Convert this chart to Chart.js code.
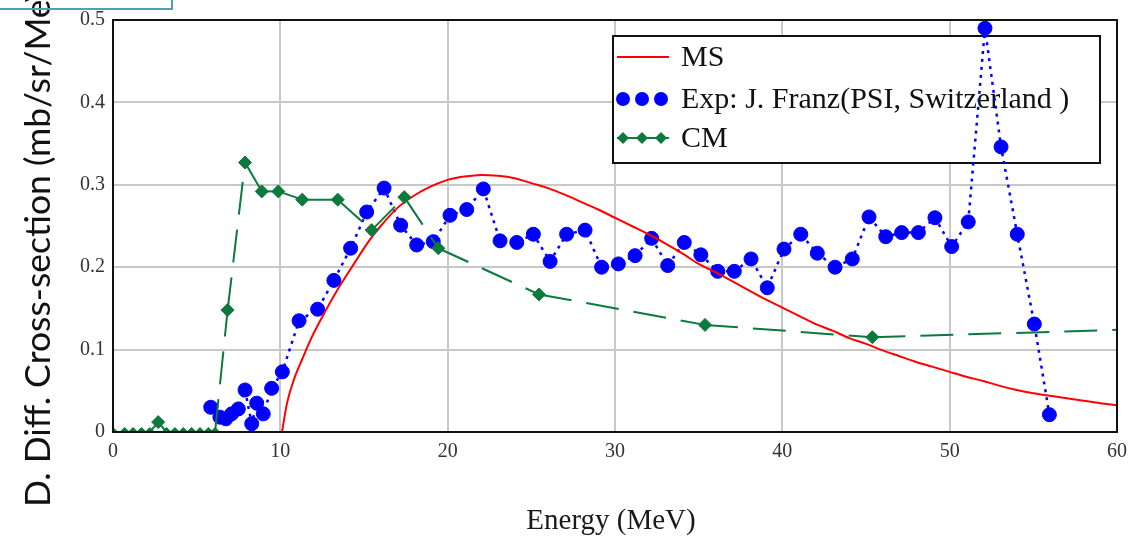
<!DOCTYPE html>
<html>
<head>
<meta charset="utf-8">
<script src="https://cdn.jsdelivr.net/npm/chart.js@4.4.1/dist/chart.umd.min.js"></script>
<style>
  body { margin: 0; background: #fff; }
  #wrap { position: relative; width: 1144px; height: 541px; overflow: hidden; }
  #tab { position: absolute; left: -4px; top: -4px; width: 173px; height: 10px; border: 2px solid #4ba1b6; }
</style>
</head>
<body>
<div id="wrap">
  <canvas id="chart" width="1144" height="541"></canvas>
  <div id="tab"></div>
</div>
<script>
// MS model curve
const msEnergy = [10.1, 10.4, 10.8, 11.3, 11.9, 12.7, 13.4, 14.4, 15.3, 16, 17, 18, 19, 20,
    21, 22, 23, 24, 25, 26, 27, 28, 29, 30, 31, 32, 33, 34, 35, 36, 37, 38, 39, 40,
    41, 42, 43, 44, 45, 46, 47, 48, 49, 50, 51, 52, 53, 54, 55, 56, 57, 58, 59, 60]
const msValue = [0, 0.035, 0.063, 0.088, 0.116, 0.147, 0.172, 0.204, 0.232, 0.250, 0.272, 0.287, 0.298, 0.306,
    0.310, 0.312, 0.311, 0.308, 0.302, 0.296, 0.288, 0.279, 0.270, 0.260, 0.250, 0.240, 0.229, 0.217, 0.204, 0.194, 0.183, 0.172, 0.161, 0.151,
    0.141, 0.131, 0.123, 0.114, 0.107, 0.099, 0.092, 0.085, 0.079, 0.073, 0.067, 0.062, 0.056, 0.051, 0.047, 0.044, 0.041, 0.038, 0.035, 0.0325]

// Experiment (J. Franz, PSI)
const expEnergy = [5.84, 6.39, 6.75, 7.09, 7.49, 7.89, 8.29, 8.59, 8.98, 9.48, 10.12, 11.12, 12.23, 13.2, 14.2,
    15.16, 16.2, 17.19, 18.15, 19.14, 20.14, 21.14, 22.13, 23.13, 24.13, 25.12, 26.12, 27.11, 28.21, 29.2,
    30.2, 31.2, 32.19, 33.15, 34.14, 35.13, 36.14, 37.13, 38.13, 39.1, 40.1, 41.1, 42.09, 43.15, 44.18,
    45.18, 46.18, 47.13, 48.13, 49.12, 50.12, 51.11, 52.11, 53.07, 54.04, 55.06, 55.96]
const expValue = [0.030, 0.018, 0.016, 0.022, 0.028, 0.051, 0.010, 0.035, 0.022, 0.053, 0.073, 0.135, 0.149, 0.184, 0.223,
    0.267, 0.296, 0.251, 0.227, 0.231, 0.263, 0.270, 0.295, 0.232, 0.230, 0.240, 0.207, 0.240, 0.245, 0.200,
    0.204, 0.214, 0.235, 0.202, 0.230, 0.215, 0.195, 0.195, 0.210, 0.175, 0.222, 0.240, 0.217, 0.200, 0.210,
    0.261, 0.237, 0.242, 0.242, 0.260, 0.225, 0.255, 0.490, 0.346, 0.240, 0.131, 0.021]

// CM model
const cmEnergy = [0, 0.7, 1.2, 1.7, 2.2, 2.7, 3.2, 3.7, 4.2, 4.7, 5.2, 5.7, 6.1, 6.85, 7.89, 8.89, 9.88,
    11.31, 13.43, 15.46, 17.41, 19.44, 25.46, 35.38, 45.38, 60]
const cmValue = [0, 0, 0, 0, 0, 0.012, 0, 0, 0, 0, 0, 0, 0, 0.148, 0.327, 0.292, 0.292,
    0.282, 0.282, 0.245, 0.285, 0.223, 0.167, 0.130, 0.115, 0.124]

const xTicks = [0, 10, 20, 30, 40, 50, 60]
const yTicks = [0, 0.1, 0.2, 0.3, 0.4, 0.5]
const legendLabels = ['MS', 'Exp: J. Franz(PSI, Switzerland )', 'CM']
const xTitle = 'Energy (MeV)'
const yTitle = 'D. Diff. Cross-section (mb/sr/MeV)'

const RED = '#ff0000'
const BLUE = '#0000ff'
const GREEN = '#0b7a3c'
const SERIF = '"Liberation Serif", "Times New Roman", serif'

const toPoints = (xs, ys) => xs.map((x, i) => ({ x: x, y: ys[i] }))

// legend, frame and axis titles
const decor = {
    id: 'decor',
    beforeDatasetsDraw(chart) {
        const ctx = chart.ctx
        ctx.save()
        ctx.fillStyle = '#fff'
        ctx.fillRect(613, 36, 487, 127)
        ctx.strokeStyle = '#111'
        ctx.lineWidth = 2
        ctx.strokeRect(613, 36, 487, 127)

        const rows = [57, 99, 138]
        // MS
        ctx.strokeStyle = RED
        ctx.beginPath(); ctx.moveTo(617, rows[0]); ctx.lineTo(669, rows[0]); ctx.stroke()
        // Exp
        ctx.fillStyle = BLUE
        ;[623, 642, 661].forEach(x => {
            ctx.beginPath(); ctx.arc(x, rows[1], 7, 0, Math.PI * 2); ctx.fill()
        })
        // CM
        ctx.strokeStyle = GREEN
        ctx.fillStyle = GREEN
        ctx.beginPath(); ctx.moveTo(617, rows[2]); ctx.lineTo(669, rows[2]); ctx.stroke()
        ;[623, 642, 661].forEach(x => {
            ctx.beginPath()
            ctx.moveTo(x, rows[2] - 6); ctx.lineTo(x + 6, rows[2]); ctx.lineTo(x, rows[2] + 6); ctx.lineTo(x - 6, rows[2])
            ctx.closePath(); ctx.fill()
        })

        ctx.fillStyle = '#111'
        ctx.font = '30px ' + SERIF
        ctx.textBaseline = 'middle'
        ctx.textAlign = 'left'
        legendLabels.forEach((t, i) => ctx.fillText(t, 681, rows[i] + 1))
        ctx.restore()
    },
    afterDraw(chart) {
        const ctx = chart.ctx
        const a = chart.chartArea
        ctx.save()
        ctx.strokeStyle = '#111'
        ctx.lineWidth = 2
        ctx.strokeRect(a.left, a.top, a.right - a.left, a.bottom - a.top)

        ctx.fillStyle = '#1a1a1a'
        ctx.font = '29px ' + SERIF
        ctx.textAlign = 'center'
        ctx.textBaseline = 'middle'
        ctx.fillText(xTitle, 611, 521)

        ctx.translate(50, 507)
        ctx.rotate(-Math.PI / 2)
        ctx.fillStyle = '#111'
        ctx.font = '35.5px Lato, sans-serif'
        ctx.textAlign = 'left'
        ctx.textBaseline = 'alphabetic'
        ctx.fillText(yTitle, 0, 0)
        ctx.restore()
    }
}

new Chart(document.getElementById('chart'), {
    type: 'scatter',
    data: {
        datasets: [{
            label: legendLabels[0],
            data: toPoints(msEnergy, msValue),
            showLine: true,
            borderColor: RED,
            borderWidth: 2,
            pointRadius: 0,
            cubicInterpolationMode: 'monotone',
            clip: 0,
            order: 1
        }, {
            label: legendLabels[1],
            data: toPoints(expEnergy, expValue),
            showLine: true,
            borderColor: BLUE,
            borderWidth: 2.5,
            borderDash: [3, 5],
            pointRadius: 7,
            pointBackgroundColor: BLUE,
            pointBorderColor: BLUE,
            pointBorderWidth: 1,
            clip: 0,
            order: 2
        }, {
            label: legendLabels[2],
            data: toPoints(cmEnergy, cmValue),
            showLine: true,
            borderColor: GREEN,
            borderWidth: 2,
            borderDash: [33, 15],
            // restart the dash at every point, like the original plot
            segment: {
                borderDashOffset: c => (c.p0DataIndex % 2 ? 0.001 : 0)
            },
            pointStyle: 'rectRot',
            pointRadius: c => (c.dataIndex === cmValue.length - 1 ? 0 : (cmValue[c.dataIndex] === 0 ? 4.5 : 6.5)),
            pointBackgroundColor: GREEN,
            pointBorderColor: GREEN,
            pointBorderWidth: 1,
            clip: 0,
            order: 0
        }]
    },
    options: {
        responsive: false,
        animation: false,
        devicePixelRatio: 1,
        layout: { padding: { left: 0, top: 17, right: 27, bottom: 0 } },
        scales: {
            x: {
                type: 'linear',
                min: 0,
                max: 60,
                afterFit: s => { s.height = 109 },
                afterBuildTicks: s => { s.ticks = xTicks.map(v => ({ value: v })) },
                grid: { color: '#c8c8c8', lineWidth: 2, drawTicks: false },
                border: { color: '#111', width: 2 },
                ticks: { padding: 8, color: '#333', font: { family: SERIF, size: 20 } }
            },
            y: {
                min: 0,
                max: 0.5,
                afterFit: s => { s.width = 113 },
                afterBuildTicks: s => { s.ticks = yTicks.map(v => ({ value: v })) },
                grid: { color: '#c8c8c8', lineWidth: 2, drawTicks: false },
                border: { color: '#111', width: 2 },
                ticks: {
                    padding: 8,
                    color: '#333',
                    font: { family: SERIF, size: 20 },
                    callback: v => String(Math.round(v * 10) / 10)
                }
            }
        },
        plugins: {
            legend: { display: false },
            tooltip: { enabled: false }
        }
    },
    plugins: [decor]
})
</script>
</body>
</html>
